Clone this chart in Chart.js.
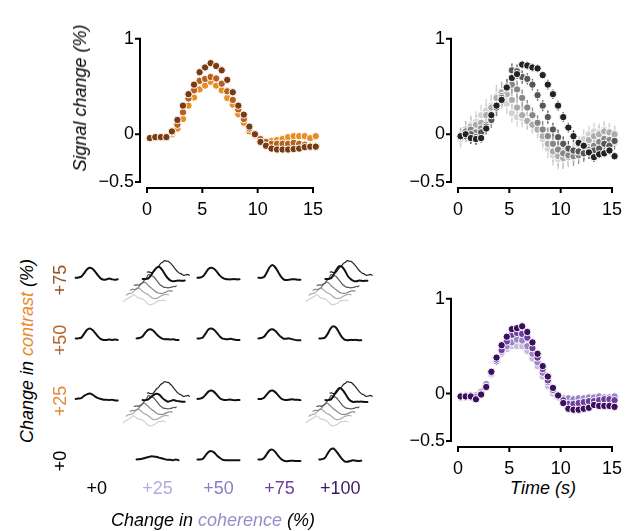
<!DOCTYPE html>
<html>
<head>
<meta charset="utf-8">
<script src="https://cdn.jsdelivr.net/npm/chart.js@4.4.1/dist/chart.umd.min.js"></script>
<style>
  body { margin: 0; background: #fff; }
  #fig { position: relative; width: 639px; height: 531px; overflow: hidden;
         font-family: "Liberation Sans", Arial, sans-serif; font-size: 18px; color: #000; }
  #fig canvas { position: absolute; }
  .lbl { position: absolute; white-space: nowrap; line-height: 1; transform: translate(-50%, -50%); }
  .rot { transform: translate(-50%, -50%) rotate(-90deg); }
  .it { font-style: italic; }
</style>
</head>
<body>
<div id="fig">
  <canvas id="contrastChart" width="280" height="215" style="left:60px;top:15px"></canvas>
  <canvas id="comboChart" width="239" height="215" style="left:400px;top:15px"></canvas>
  <canvas id="coherenceChart" width="239" height="200" style="left:400px;top:275px"></canvas>
  <canvas id="gridChart" width="360" height="291" style="left:40px;top:240px"></canvas>
  <div class="lbl rot it" style="left:80px;top:98px">Signal change (%)</div>
  <div class="lbl it" style="left:543px;top:488px">Time (s)</div>
  <div class="lbl rot it" style="left:27px;top:351px">Change in <span style="color:#e8892e">contrast</span> (%)</div>
  <div class="lbl it" style="left:213px;top:520px">Change in <span style="color:#9a8ccb">coherence</span> (%)</div>
</div>
<script>
// ---------- DATA ----------
const times = [0.25, 0.75, 1.25, 1.75, 2.25, 2.75, 3.25, 3.75, 4.25, 4.75, 5.25, 5.75, 6.25, 6.75, 7.25, 7.75,
  8.25, 8.75, 9.25, 9.75, 10.25, 10.75, 11.25, 11.75, 12.25, 12.75, 13.25, 13.75, 14.25, 14.75, 15.25];
const xTicks = [0, 5, 10, 15];
const yTicks = [-0.5, 0, 1];
const yTickLabels = ["−0.5", "0", "1"];

// top left: change in contrast
const contrast75 = [-0.04, -0.03, -0.03, -0.03, 0.03, 0.15, 0.30, 0.42, 0.52, 0.65, 0.70, 0.745, 0.715, 0.67, 0.57, 0.44,
  0.30, 0.205, 0.08, 0.00, -0.08, -0.12, -0.15, -0.16, -0.16, -0.16, -0.155, -0.15, -0.135, -0.13, -0.13];
const contrast50 = [-0.04, -0.03, -0.03, -0.03, 0.02, 0.10, 0.23, 0.375, 0.46, 0.56, 0.58, 0.60, 0.585, 0.53, 0.45, 0.36,
  0.26, 0.16, 0.06, -0.01, -0.05, -0.08, -0.10, -0.10, -0.10, -0.10, -0.09, -0.10, -0.11, -0.12, -0.12];
const contrast25 = [-0.04, -0.04, -0.03, -0.03, 0.00, 0.06, 0.16, 0.30, 0.385, 0.47, 0.51, 0.55, 0.51, 0.46, 0.38, 0.31,
  0.21, 0.12, 0.03, -0.02, -0.05, -0.07, -0.07, -0.06, -0.05, -0.03, -0.02, -0.02, -0.02, -0.04, -0.02];

// top right: combined changes
const comboBlack = [-0.02, 0.00, -0.04, -0.05, -0.04, 0.06, 0.20, 0.30, 0.36, 0.49, 0.59, 0.63, 0.73, 0.72, 0.70, 0.69,
  0.62, 0.52, 0.42, 0.30, 0.18, 0.07, -0.02, -0.09, -0.12, -0.19, -0.24, -0.21, -0.20, -0.17, -0.23];
const comboDark = [-0.03, -0.02, 0.00, -0.03, 0.02, 0.08, 0.15, 0.28, 0.38, 0.50, 0.67, 0.66, 0.60, 0.58, 0.52, 0.41,
  0.30, 0.18, 0.05, -0.03, -0.10, -0.15, -0.17, -0.18, -0.20, -0.19, -0.17, -0.15, -0.10, -0.12, -0.07];
const comboMid = [-0.02, 0.03, 0.05, 0.02, 0.06, 0.10, 0.18, 0.30, 0.40, 0.48, 0.52, 0.47, 0.38, 0.28, 0.20, 0.12,
  0.05, -0.02, -0.10, -0.16, -0.20, -0.22, -0.23, -0.22, -0.20, -0.16, -0.12, -0.08, -0.05, -0.06, -0.08];
const comboLight = [-0.02, 0.05, 0.08, 0.10, 0.12, 0.20, 0.28, 0.38, 0.44, 0.42, 0.36, 0.28, 0.20, 0.14, 0.10, 0.05,
  -0.02, -0.10, -0.18, -0.23, -0.25, -0.24, -0.22, -0.18, -0.12, -0.06, -0.02, 0.00, 0.03, 0.02, 0.00];
const comboLightest = [-0.05, 0.02, 0.10, 0.13, 0.20, 0.25, 0.30, 0.40, 0.38, 0.32, 0.22, 0.18, 0.17, 0.15, 0.10, 0.05,
  -0.05, -0.15, -0.22, -0.26, -0.25, -0.22, -0.18, -0.12, -0.05, 0.00, 0.03, 0.02, 0.05, 0.03, 0.00];
const errBlack = [0.05, 0.05, 0.06, 0.06, 0.05, 0.05, 0.06, 0.07, 0.07, 0.06, 0.05, 0.05, 0.04, 0.04, 0.04, 0.04,
  0.04, 0.05, 0.05, 0.05, 0.05, 0.05, 0.06, 0.06, 0.05, 0.05, 0.05, 0.04, 0.04, 0.04, 0.04];
const errDark = [0.06, 0.06, 0.07, 0.07, 0.07, 0.08, 0.08, 0.09, 0.09, 0.08, 0.07, 0.07, 0.07, 0.06, 0.06, 0.06,
  0.06, 0.07, 0.07, 0.08, 0.08, 0.08, 0.08, 0.08, 0.07, 0.07, 0.07, 0.07, 0.07, 0.06, 0.06];
const errMid = [0.08, 0.08, 0.09, 0.09, 0.10, 0.10, 0.11, 0.11, 0.10, 0.10, 0.09, 0.09, 0.09, 0.08, 0.08, 0.08,
  0.09, 0.09, 0.10, 0.10, 0.10, 0.10, 0.10, 0.09, 0.09, 0.09, 0.08, 0.08, 0.08, 0.08, 0.08];
const errLight = [0.09, 0.09, 0.10, 0.10, 0.11, 0.11, 0.12, 0.12, 0.11, 0.10, 0.10, 0.10, 0.09, 0.09, 0.09, 0.09,
  0.10, 0.10, 0.11, 0.11, 0.11, 0.10, 0.10, 0.10, 0.09, 0.09, 0.09, 0.09, 0.09, 0.09, 0.09];
const errLightest = [0.09, 0.10, 0.10, 0.11, 0.11, 0.12, 0.12, 0.12, 0.11, 0.11, 0.10, 0.10, 0.10, 0.09, 0.09, 0.09,
  0.10, 0.10, 0.11, 0.11, 0.11, 0.11, 0.10, 0.10, 0.10, 0.09, 0.09, 0.09, 0.09, 0.09, 0.09];

// bottom right: change in coherence
const coherence100 = [-0.03, -0.03, -0.03, -0.06, -0.01, 0.07, 0.23, 0.38, 0.51, 0.60, 0.68, 0.69, 0.71, 0.65, 0.54, 0.42,
  0.29, 0.18, 0.06, -0.02, -0.10, -0.16, -0.17, -0.17, -0.16, -0.15, -0.12, -0.13, -0.13, -0.13, -0.14];
const coherence75 = [-0.03, -0.03, -0.02, -0.04, 0.00, 0.07, 0.22, 0.36, 0.46, 0.55, 0.62, 0.64, 0.63, 0.59, 0.48, 0.38,
  0.26, 0.14, 0.04, -0.03, -0.07, -0.11, -0.11, -0.10, -0.09, -0.08, -0.08, -0.07, -0.06, -0.06, -0.07];
const coherence50 = [-0.04, -0.02, -0.02, -0.02, 0.02, 0.10, 0.21, 0.34, 0.44, 0.50, 0.54, 0.57, 0.56, 0.50, 0.42, 0.33,
  0.22, 0.12, 0.03, -0.02, -0.05, -0.05, -0.06, -0.05, -0.05, -0.04, -0.04, -0.03, -0.04, -0.04, -0.03];
const coherence25 = [-0.05, -0.04, -0.04, -0.03, 0.01, 0.09, 0.20, 0.33, 0.42, 0.47, 0.50, 0.50, 0.50, 0.45, 0.37, 0.29,
  0.18, 0.08, 0.00, -0.04, -0.08, -0.09, -0.09, -0.08, -0.07, -0.06, -0.06, -0.05, -0.05, -0.05, -0.05];

// bottom left: grid of single conditions (contrast row x coherence column)
const gridTimes = [0, 1, 2, 3, 4, 5, 6, 7, 8, 9, 10, 11, 12, 13, 14, 15];
const gridRowLabels = ["+0", "+25", "+50", "+75"];
const gridColLabels = ["+0", "+25", "+50", "+75", "+100"];
const grid75_0 = [0.0, 0.02, 0.08, 0.30, 0.55, 0.67, 0.60, 0.40, 0.15, -0.05, -0.12, -0.10, -0.05, -0.10, -0.12, -0.10];
const grid75_25 = [0.0, 0.0, 0.05, 0.25, 0.55, 0.75, 0.80, 0.60, 0.30, 0.05, -0.10, -0.15, -0.12, -0.10, -0.12, -0.10];
const grid75_50 = [0.0, 0.02, 0.10, 0.35, 0.60, 0.67, 0.58, 0.38, 0.15, 0.0, -0.08, -0.10, -0.10, -0.08, -0.10, -0.10];
const grid75_75 = [0.0, 0.0, 0.05, 0.35, 0.70, 0.85, 0.70, 0.40, 0.10, -0.10, -0.15, -0.12, -0.10, -0.10, -0.12, -0.12];
const grid75_100 = [0.0, 0.0, 0.05, 0.30, 0.65, 0.85, 0.80, 0.55, 0.20, 0.0, -0.12, -0.15, -0.10, -0.12, -0.12, -0.12];
const grid50_0 = [0.0, 0.0, 0.05, 0.30, 0.55, 0.65, 0.55, 0.35, 0.12, -0.05, -0.10, -0.10, -0.08, -0.10, -0.08, -0.10];
const grid50_25 = [0.0, 0.02, 0.10, 0.35, 0.55, 0.60, 0.50, 0.30, 0.12, 0.0, -0.05, -0.05, -0.08, -0.05, -0.10, -0.10];
const grid50_50 = [0.0, 0.0, 0.08, 0.35, 0.60, 0.65, 0.55, 0.35, 0.12, -0.02, -0.05, -0.05, -0.03, -0.08, -0.10, -0.10];
const grid50_75 = [0.0, 0.02, 0.10, 0.35, 0.55, 0.60, 0.50, 0.30, 0.10, -0.02, -0.02, 0.0, -0.05, -0.10, -0.12, -0.12];
const grid50_100 = [0.0, 0.0, 0.05, 0.30, 0.65, 0.80, 0.70, 0.40, 0.10, -0.08, -0.12, -0.10, -0.10, -0.10, -0.12, -0.12];
const grid25_0 = [0.0, 0.02, 0.05, 0.20, 0.30, 0.35, 0.28, 0.15, 0.05, 0.0, -0.05, -0.05, -0.08, -0.05, -0.10, -0.10];
const grid25_25 = [0.0, 0.0, 0.05, 0.20, 0.35, 0.42, 0.35, 0.15, 0.0, -0.10, -0.05, 0.0, -0.05, -0.08, -0.10, -0.10];
const grid25_50 = [0.0, 0.02, 0.10, 0.30, 0.50, 0.55, 0.45, 0.25, 0.05, -0.05, -0.08, -0.05, -0.05, -0.08, -0.08, -0.08];
const grid25_75 = [0.0, 0.0, 0.08, 0.30, 0.50, 0.55, 0.45, 0.25, 0.05, -0.05, -0.08, -0.05, -0.02, -0.05, -0.05, -0.08];
const grid25_100 = [0.0, 0.0, 0.05, 0.30, 0.60, 0.80, 0.70, 0.45, 0.15, -0.05, -0.12, -0.10, -0.10, -0.10, -0.12, -0.12];
const grid0_25 = [0.0, 0.02, 0.05, 0.10, 0.15, 0.20, 0.20, 0.18, 0.12, 0.08, 0.02, -0.02, -0.02, -0.05, 0.0, -0.05];
const grid0_50 = [0.0, 0.0, 0.05, 0.30, 0.50, 0.55, 0.45, 0.25, 0.10, -0.02, -0.05, -0.05, -0.05, -0.05, -0.05, -0.05];
const grid0_75 = [0.0, 0.0, 0.10, 0.35, 0.60, 0.65, 0.50, 0.25, 0.05, -0.08, -0.12, -0.10, -0.08, -0.10, -0.10, -0.10];
const grid0_100 = [0.0, 0.02, 0.10, 0.40, 0.65, 0.72, 0.55, 0.30, 0.05, -0.12, -0.15, -0.10, -0.05, -0.08, -0.10, -0.08];

// ---------- STYLE ----------
const FONT = '"Liberation Sans", Arial, sans-serif';
Chart.defaults.font.family = FONT;
Chart.defaults.font.size = 18;
Chart.defaults.color = "#000";

const contrastColors = ["#7b3b12", "#b5611e", "#e88d25"];
const comboColors = ["#222222", "#575757", "#868686", "#ababab", "#d2d2d2"];
const coherenceColors = ["#3b0f5e", "#6b3b9e", "#9786c6", "#c4badf"];
const gridRowColors = ["#000000", "#e4893a", "#b5652d", "#94552a"];
const gridColColors = ["#000000", "#b5acdb", "#8a7bc2", "#6a3fa0", "#3c1a63"];

// ---------- PLUGINS ----------
// axes drawn a little apart from the data, spanning first to last tick only
const offsetAxes = {
  id: "offsetAxes",
  afterDraw(chart, args, opts) {
    if (!opts.on) return;
    const { ctx, chartArea: a, scales: { x, y } } = chart;
    const yb = a.bottom + opts.gapX;
    const xl = a.left - opts.gapY;
    ctx.save();
    ctx.strokeStyle = "#000";
    ctx.lineWidth = 2;
    ctx.beginPath();
    const xs = x.ticks.map(t => x.getPixelForValue(t.value));
    ctx.moveTo(xs[0] - 1, yb);
    ctx.lineTo(xs[xs.length - 1] + 1, yb);
    xs.forEach(px => { ctx.moveTo(px, yb); ctx.lineTo(px, yb + opts.tick); });
    const ys = y.ticks.map(t => y.getPixelForValue(t.value));
    ctx.moveTo(xl, ys[0] + 1);
    ctx.lineTo(xl, ys[ys.length - 1] - 1);
    ys.forEach(py => { ctx.moveTo(xl, py); ctx.lineTo(xl - opts.tick, py); });
    ctx.stroke();
    ctx.restore();
  }
};

// vertical error bars behind the points
const errorBars = {
  id: "errorBars",
  beforeDatasetsDraw(chart) {
    const { ctx, scales: { y } } = chart;
    chart.data.datasets.forEach((ds, i) => {
      if (!ds.errors) return;
      const meta = chart.getDatasetMeta(i);
      ctx.save();
      ctx.strokeStyle = ds.backgroundColor;
      ctx.lineWidth = 1.3;
      meta.data.forEach((pt, j) => {
        const v = ds.data[j].y, e = ds.errors[j];
        ctx.beginPath();
        ctx.moveTo(pt.x, y.getPixelForValue(v - e));
        ctx.lineTo(pt.x, y.getPixelForValue(v + e));
        ctx.stroke();
      });
      ctx.restore();
    });
  }
};

// ---------- TIME COURSE PANELS ----------
function makePanel(id, series, colors, errs, box) {
  const datasets = series.map((vals, i) => ({
    data: vals.map((v, j) => ({ x: times[j], y: v })),
    errors: errs ? errs[i] : null,
    backgroundColor: colors[i],
    borderColor: "#fff",
    pointRadius: 3.7,
    pointHoverRadius: 3.7,
    pointBorderWidth: 1,
    clip: false
  }));
  return new Chart(document.getElementById(id), {
    type: "scatter",
    data: { datasets },
    options: {
      responsive: false,
      animation: false,
      events: [],
      layout: { padding: { left: 0, top: box.top, right: box.right, bottom: 0 } },
      plugins: {
        legend: { display: false },
        tooltip: { enabled: false },
        offsetAxes: { on: true, gapX: 6, gapY: 7, tick: 5 }
      },
      scales: {
        x: {
          type: "linear", min: 0, max: 15,
          grid: { display: false, drawTicks: false },
          border: { display: false },
          afterBuildTicks: s => { s.ticks = xTicks.map(v => ({ value: v })); },
          afterFit: s => { s.height = box.xh; },
          ticks: { padding: 17, maxRotation: 0 }
        },
        y: {
          type: "linear", min: -0.5, max: 1,
          grid: { display: false, drawTicks: false },
          border: { display: false },
          afterBuildTicks: s => { s.ticks = yTicks.map(v => ({ value: v })); },
          afterFit: s => { s.width = box.yw; },
          ticks: { padding: 13, callback: (v, i) => yTickLabels[i] }
        }
      }
    },
    plugins: [offsetAxes, errorBars]
  });
}

makePanel("contrastChart", [contrast75, contrast50, contrast25], contrastColors, null,
  { top: 16, right: 22, xh: 48, yw: 87 });
makePanel("comboChart", [comboBlack, comboDark, comboMid, comboLight, comboLightest], comboColors,
  [errBlack, errDark, errMid, errLight, errLightest], { top: 17, right: 11, xh: 48, yw: 58 });
makePanel("coherenceChart", [coherence100, coherence75, coherence50, coherence25], coherenceColors, null,
  { top: 16, right: 11, xh: 34, yw: 58 });

// ---------- GRID PANEL ----------
const CELL_W = 0.69;   // width of one small time course, in columns
const AMP = 0.25;      // rows per 1 % signal change
// [row, column, values, stacked]
const gridCells = [
  [3, 0, grid75_0, false], [3, 1, grid75_25, true], [3, 2, grid75_50, false], [3, 3, grid75_75, false], [3, 4, grid75_100, true],
  [2, 0, grid50_0, false], [2, 1, grid50_25, false], [2, 2, grid50_50, false], [2, 3, grid50_75, false], [2, 4, grid50_100, false],
  [1, 0, grid25_0, false], [1, 1, grid25_25, true], [1, 2, grid25_50, false], [1, 3, grid25_75, false], [1, 4, grid25_100, true],
  [0, 1, grid0_25, false], [0, 2, grid0_50, false], [0, 3, grid0_75, false], [0, 4, grid0_100, false]
];
const stackSeries = [comboBlack, comboDark, comboMid, comboLight, comboLightest];
const stackShift = [[0.165, 0.10], [-0.05, -0.115], [-0.115, -0.20], [-0.18, -0.28], [-0.23, -0.38]];
const mainShift = [0.1, -0.02];

function trace(ts, vals, col, row, dx, dy) {
  return vals.map((v, i) => ({ x: col - CELL_W / 2 + dx + ts[i] / 15 * CELL_W, y: row + dy + v * AMP }));
}

const gridSets = [];
gridCells.forEach(([r, c, vals, stacked]) => {
  const sh = stacked ? mainShift : [0, 0];
  gridSets.push({ data: trace(gridTimes, vals, c, r, sh[0], sh[1]), borderColor: "#111", borderWidth: 2 });
});
gridCells.filter(g => g[3]).forEach(([r, c]) => {
  stackSeries.forEach((vals, k) => {
    gridSets.push({ data: trace(times, vals, c, r, stackShift[k][0], stackShift[k][1]),
      borderColor: comboColors[k], borderWidth: 1.2 });
  });
});
gridSets.forEach(ds => Object.assign(ds, { showLine: true, pointRadius: 0, tension: 0.3, clip: false,
  borderCapStyle: "round", borderJoinStyle: "round" }));

const gridChart = new Chart(document.getElementById("gridChart"), {
  type: "scatter",
  data: { datasets: gridSets },
  options: {
    responsive: false,
    animation: false,
    events: [],
    layout: { padding: { left: 11, top: 10, right: 14, bottom: 0 } },
    plugins: { legend: { display: false }, tooltip: { enabled: false } },
    scales: {
      x: {
        type: "linear", min: -0.75, max: 4.75,
        grid: { display: false, drawTicks: false },
        border: { display: false },
        afterBuildTicks: s => { s.ticks = gridColLabels.map((l, i) => ({ value: i })); },
        afterFit: s => { s.height = 54; },
        ticks: { padding: 1, maxRotation: 0, callback: (v, i) => gridColLabels[i],
          color: ctx => gridColColors[ctx.index] }
      },
      y: { type: "linear", min: -0.29, max: 3.46, display: false }
    }
  }
});

// row labels, rotated, placed on the grid's rows
const fig = document.getElementById("fig");
gridRowLabels.forEach((txt, r) => {
  const d = document.createElement("div");
  d.className = "lbl rot";
  d.textContent = txt;
  d.style.color = gridRowColors[r];
  d.style.left = "60px";
  d.style.top = (240 + gridChart.scales.y.getPixelForValue(r) + 2) + "px";
  fig.appendChild(d);
});
</script>
</body>
</html>
